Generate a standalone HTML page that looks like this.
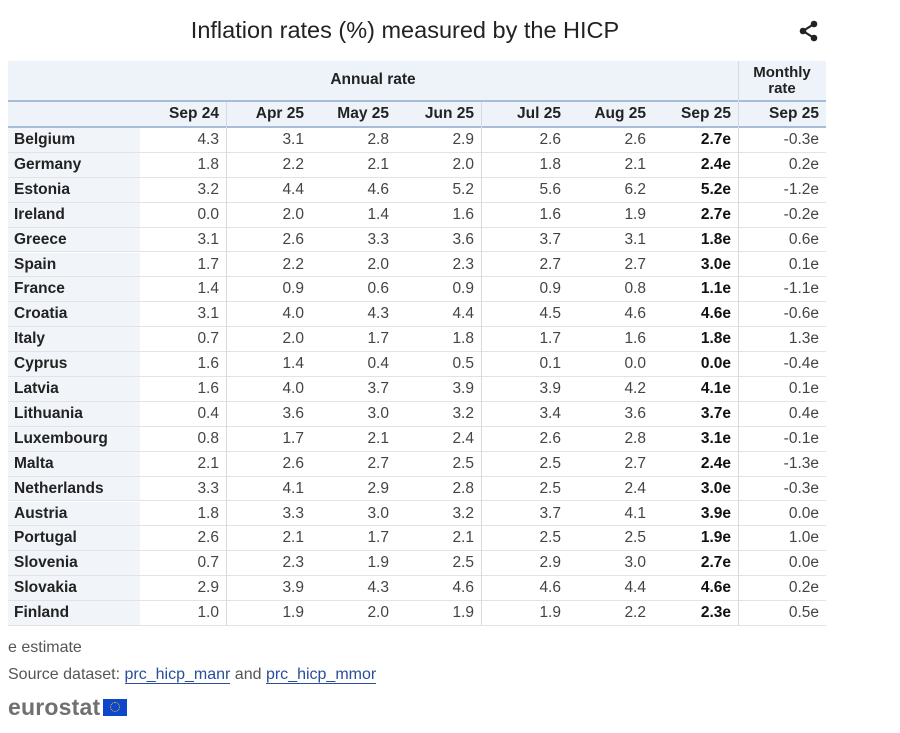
<!DOCTYPE html>
<html><head><meta charset="utf-8"><style>
*{margin:0;padding:0;box-sizing:border-box}
body{width:900px;height:733px;background:#fff;font-family:"Liberation Sans",Arial,sans-serif;color:#222;position:relative;overflow:hidden}
.title{position:absolute;left:0;width:810px;top:17px;text-align:center;font-size:23.5px;color:#222}
.hdr1{position:absolute;left:8px;top:61px;width:818px;height:40px;background:#eef3fa}
.hdr2{position:absolute;left:8px;top:102px;width:818px;height:25px;background:#eef3fa}
.line{position:absolute;left:8px;width:818px;height:2px;background:#a7bcd6}
.row{position:absolute;left:8px;width:818px;height:24.9px;border-bottom:1px solid #e3e3e3}
.c{position:absolute;top:0;height:100%;text-align:right;padding-right:7px;font-size:15.5px;line-height:24px;color:#444}
.lab{position:absolute;left:0;width:132px;height:100%;background:#f1f5fa;font-weight:bold;font-size:15.5px;line-height:24px;padding-left:6px;color:#222}
.b{font-weight:bold;color:#111}
.vl{position:absolute;width:1px;background:#d5dbe3}
.h{font-weight:bold;color:#222}
.foot{position:absolute;left:8px;font-size:16px;color:#555}
a{color:#2a4e9c;text-decoration:none;border-bottom:1px solid #2a4e9c}
</style></head><body>
<div class="title">Inflation rates (%) measured by the HICP</div>
<svg style="position:absolute;left:798px;top:20px" width="22" height="22" viewBox="0 0 22 22"><circle cx="16" cy="4" r="3.3" fill="#222"/><circle cx="5" cy="11" r="3.3" fill="#222"/><circle cx="16" cy="18" r="3.3" fill="#222"/><path d="M16 4L5 11L16 18" stroke="#222" stroke-width="2.2" fill="none"/></svg>
<div class="hdr1"></div><div class="hdr2"></div>
<div class="line" style="top:100px"></div>
<div class="line" style="top:126px"></div>
<div style="position:absolute;left:8px;width:730px;top:71px;text-align:center;font-weight:bold;font-size:15.5px">Annual rate</div>
<div style="position:absolute;left:738px;width:88px;top:65px;text-align:center;font-weight:bold;font-size:15px;line-height:16px">Monthly<br>rate</div>
<div id="h2" style="position:absolute;left:8px;top:102px;width:818px;height:24px"></div>
<div id="rows"></div>
<div class="vl" style="left:226px;top:102px;height:523px"></div>
<div class="vl" style="left:481px;top:102px;height:523px"></div>
<div class="vl" style="left:738px;top:61px;height:564px"></div>
<div class="foot" style="top:639px">e estimate</div>
<div class="foot" style="top:666px">Source dataset: <a>prc_hicp_manr</a> and <a>prc_hicp_mmor</a></div>
<div style="position:absolute;left:8px;top:694px;font-size:23px;font-weight:bold;color:#707070;letter-spacing:0.2px">eurostat</div>
<div style="position:absolute;left:103px;top:699px;width:24px;height:17px;background:#0e47cb"><div style="position:absolute;left:7px;top:3px;width:10px;height:10px;border:1px dotted #f5d000;border-radius:50%"></div></div>
<script>
var edges=[0,132,218,303,388,473,560,645,730,818];
var heads=["Sep 24","Apr 25","May 25","Jun 25","Jul 25","Aug 25","Sep 25","Sep 25"];
var h="";for(var i=0;i<8;i++){h+='<div class="c h" style="left:'+edges[i+1]+'px;width:'+(edges[i+2]-edges[i+1])+'px">'+heads[i]+'</div>';}
document.getElementById('h2').innerHTML=h;
var d=[["Belgium","4.3","3.1","2.8","2.9","2.6","2.6","2.7e","-0.3e"],
["Germany","1.8","2.2","2.1","2.0","1.8","2.1","2.4e","0.2e"],
["Estonia","3.2","4.4","4.6","5.2","5.6","6.2","5.2e","-1.2e"],
["Ireland","0.0","2.0","1.4","1.6","1.6","1.9","2.7e","-0.2e"],
["Greece","3.1","2.6","3.3","3.6","3.7","3.1","1.8e","0.6e"],
["Spain","1.7","2.2","2.0","2.3","2.7","2.7","3.0e","0.1e"],
["France","1.4","0.9","0.6","0.9","0.9","0.8","1.1e","-1.1e"],
["Croatia","3.1","4.0","4.3","4.4","4.5","4.6","4.6e","-0.6e"],
["Italy","0.7","2.0","1.7","1.8","1.7","1.6","1.8e","1.3e"],
["Cyprus","1.6","1.4","0.4","0.5","0.1","0.0","0.0e","-0.4e"],
["Latvia","1.6","4.0","3.7","3.9","3.9","4.2","4.1e","0.1e"],
["Lithuania","0.4","3.6","3.0","3.2","3.4","3.6","3.7e","0.4e"],
["Luxembourg","0.8","1.7","2.1","2.4","2.6","2.8","3.1e","-0.1e"],
["Malta","2.1","2.6","2.7","2.5","2.5","2.7","2.4e","-1.3e"],
["Netherlands","3.3","4.1","2.9","2.8","2.5","2.4","3.0e","-0.3e"],
["Austria","1.8","3.3","3.0","3.2","3.7","4.1","3.9e","0.0e"],
["Portugal","2.6","2.1","1.7","2.1","2.5","2.5","1.9e","1.0e"],
["Slovenia","0.7","2.3","1.9","2.5","2.9","3.0","2.7e","0.0e"],
["Slovakia","2.9","3.9","4.3","4.6","4.6","4.4","4.6e","0.2e"],
["Finland","1.0","1.9","2.0","1.9","1.9","2.2","2.3e","0.5e"]];
var s="";
d.forEach(function(r,k){
 s+='<div class="row" style="top:'+(128+k*24.9)+'px"><div class="lab">'+r[0]+'</div>';
 for(var i=1;i<9;i++){s+='<div class="c'+(i==7?' b':'')+'" style="left:'+edges[i]+'px;width:'+(edges[i+1]-edges[i])+'px">'+r[i]+'</div>';}
 s+='</div>';
});
document.getElementById('rows').innerHTML=s;
</script>
</body></html>
